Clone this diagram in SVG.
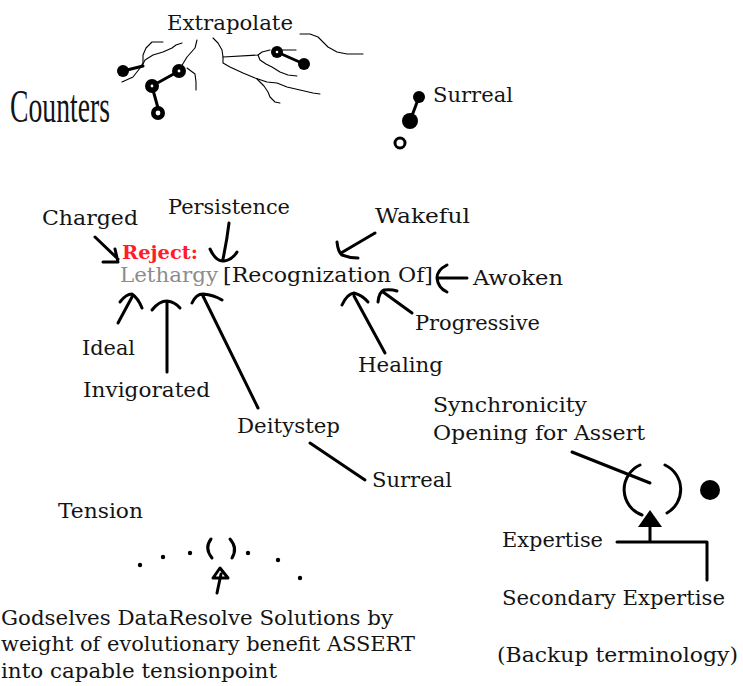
<svg xmlns="http://www.w3.org/2000/svg" width="743" height="686" viewBox="0 0 743 686">
<style>
.t{font-family:"DejaVu Serif","Liberation Serif",serif;font-size:20px;fill:#141414}
.big{font-family:"Liberation Serif",serif;font-size:46px;fill:#141414}
.red{font-family:"DejaVu Serif","Liberation Serif",serif;font-size:19px;font-weight:bold;fill:#ff1d2b}
.gray{font-family:"DejaVu Serif","Liberation Serif",serif;font-size:20px;fill:#8c8c8c}
.ln{fill:none;stroke:#000;stroke-width:3;stroke-linecap:round;stroke-linejoin:round}
.thin{fill:none;stroke:#000;stroke-width:1.1;stroke-linecap:round;stroke-linejoin:round}
.dot{fill:#000}
.hole{fill:#fff}
</style>
<rect width="743" height="686" fill="#fff"/>

<g id="extrapolate">
<text class="t" x="167" y="30" textLength="126" lengthAdjust="spacingAndGlyphs">Extrapolate</text>
</g>
<g id="counters">
<text class="big" x="10" y="122" textLength="100" lengthAdjust="spacingAndGlyphs">Counters</text>
</g>
<g id="counter-shapes">
<path class="thin" d="M163,42 L152,42 L146,48 L143,55 L143,63 L140,68 L133,77 L122,82"/>
<path class="thin" d="M182,43 L176,45 L172,48 L163,52 L153,55 L145,60 L142,66"/>
<path class="thin" d="M197,40 L195,48 L187,57 L181,67"/>
<path class="thin" d="M187,68 L195,74 L196,82 L196,90"/>
<path class="thin" d="M213,38 L218,43 L222,50 L223,57 L223,63 L230,67 L243,73 L255,78 L267,82 L277,83 L287,87 L300,90 L313,93 L320,94"/>
<path class="thin" d="M257,79 L264,86 L268,92 L270,97 L275,102 L280,103"/>
<path class="thin" d="M223,57 L258,55 L262,52 L270,50"/>
<path class="thin" d="M258,55 L260,60 L266,64 L272,67 L280,72 L288,75 L297,76"/>
<path class="thin" d="M282,50 L296,50"/>
<path class="thin" d="M300,34 L310,34 L318,37 L323,42 L328,47 L337,52 L347,54 L363,54"/>
<path class="ln" d="M127,70 L143,66"/>
<path class="ln" d="M179,71 L152,86" stroke-width="3.5"/>
<path class="ln" d="M153,90 L158,108"/>
<path class="ln" d="M277,52 L304,64" stroke-width="3.5"/>
<circle class="dot" cx="123" cy="71" r="6"/>
<circle class="dot" cx="179" cy="71" r="7"/><circle class="hole" cx="179" cy="71" r="1.4"/>
<circle class="dot" cx="152" cy="86" r="7"/><circle class="hole" cx="152" cy="86" r="1.4"/>
<circle class="dot" cx="158" cy="113" r="7"/><circle class="hole" cx="158" cy="113" r="2.4"/>
<circle class="dot" cx="277" cy="52" r="6"/><circle class="hole" cx="277" cy="52" r="1.3"/>
<circle class="dot" cx="304" cy="64" r="6"/>
</g>

<g id="surreal-top">
<text class="t" x="433" y="102" textLength="80" lengthAdjust="spacingAndGlyphs">Surreal</text>
<path class="ln" d="M419,97 L410,121"/>
<circle class="dot" cx="419" cy="97" r="6"/>
<circle class="dot" cx="410" cy="121" r="8"/>
<circle cx="400" cy="143" r="5" fill="#fff" stroke="#000" stroke-width="3"/>
</g>

<g id="charged"><text class="t" x="42" y="225" textLength="96" lengthAdjust="spacingAndGlyphs">Charged</text></g>
<g id="persistence"><text class="t" x="168" y="214" textLength="122" lengthAdjust="spacingAndGlyphs">Persistence</text></g>
<g id="wakeful"><text class="t" x="375" y="223" textLength="95" lengthAdjust="spacingAndGlyphs">Wakeful</text></g>
<g id="reject"><text class="red" x="122" y="259" textLength="76" lengthAdjust="spacingAndGlyphs">Reject:</text></g>
<g id="lethargy"><text class="gray" x="120" y="282" textLength="98" lengthAdjust="spacingAndGlyphs">Lethargy</text></g>
<g id="recognization"><text class="t" x="223" y="282" textLength="210" lengthAdjust="spacingAndGlyphs">[Recognization Of]</text></g>
<g id="awoken"><text class="t" x="473" y="285" textLength="90" lengthAdjust="spacingAndGlyphs">Awoken</text></g>
<g id="progressive"><text class="t" x="415" y="330" textLength="125" lengthAdjust="spacingAndGlyphs">Progressive</text></g>
<g id="ideal"><text class="t" x="82" y="355" textLength="53" lengthAdjust="spacingAndGlyphs">Ideal</text></g>
<g id="healing"><text class="t" x="358" y="372" textLength="85" lengthAdjust="spacingAndGlyphs">Healing</text></g>
<g id="invigorated"><text class="t" x="83" y="397" textLength="127" lengthAdjust="spacingAndGlyphs">Invigorated</text></g>
<g id="synchronicity">
<text class="t" x="433" y="412" textLength="154" lengthAdjust="spacingAndGlyphs">Synchronicity</text>
<text class="t" x="433" y="440" textLength="212" lengthAdjust="spacingAndGlyphs">Opening for Assert</text>
</g>
<g id="deitystep"><text class="t" x="237" y="433" textLength="103" lengthAdjust="spacingAndGlyphs">Deitystep</text></g>
<g id="surreal-mid"><text class="t" x="372" y="487" textLength="80" lengthAdjust="spacingAndGlyphs">Surreal</text></g>
<g id="tension"><text class="t" x="58" y="518" textLength="85" lengthAdjust="spacingAndGlyphs">Tension</text></g>
<g id="tension-point">
<circle class="dot" cx="140" cy="565" r="2.2"/>
<circle class="dot" cx="163" cy="557" r="2.2"/>
<circle class="dot" cx="190" cy="553" r="2.2"/>
<circle class="dot" cx="248" cy="553" r="2.2"/>
<circle class="dot" cx="278" cy="560" r="2.2"/>
<circle class="dot" cx="300" cy="578" r="2.2"/>
<path class="ln" d="M211,539 Q204,548 212,558"/>
<path class="ln" d="M230,539 Q238,548 232,558"/>
</g>
<g id="opening">
<path class="ln" d="M640,465 A27,27 0 0 0 642,515" stroke-width="2.2"/>
<path class="ln" d="M665,465 A27,27 0 0 1 667,513" stroke-width="2.2"/>
<circle class="dot" cx="710" cy="490" r="10"/>
<path d="M650,510 L638,527 L662,527 Z" fill="#000"/>
</g>
<g id="expertise"><text class="t" x="502" y="547" textLength="101" lengthAdjust="spacingAndGlyphs">Expertise</text></g>
<g id="secondary-expertise"><text class="t" x="502" y="605" textLength="223" lengthAdjust="spacingAndGlyphs">Secondary Expertise</text></g>
<g id="backup"><text class="t" x="497" y="662" textLength="241" lengthAdjust="spacingAndGlyphs">(Backup terminology)</text></g>
<g id="godselves">
<text class="t" x="1" y="625" textLength="392" lengthAdjust="spacingAndGlyphs">Godselves DataResolve Solutions by</text>
<text class="t" x="1" y="651" textLength="414" lengthAdjust="spacingAndGlyphs">weight of evolutionary benefit ASSERT</text>
<text class="t" x="1" y="678" textLength="276" lengthAdjust="spacingAndGlyphs">into capable tensionpoint</text>
</g>

<g id="connectors">
<path class="ln" d="M95,237 L118,259 M103,262 L118,262 L115,249"/>
<path class="ln" d="M229,223 Q227,240 223,259 M210,249 Q216,262 224,261 Q232,260 237,252"/>
<path class="ln" d="M375,233 L341,253 M337,242 Q338,252 342,255 Q350,258 358,258"/>
<path class="ln" d="M467,278 L437,278 M447,265 Q437,270 437,278 Q438,288 447,292"/>
<path class="ln" d="M412,313 L383,292 M378,302 Q379,292 384,290 Q391,289 397,291"/>
<path class="ln" d="M385,353 L354,296 M342,305 Q347,294 354,293 Q362,295 368,302"/>
<path class="ln" d="M118,323 L132,297 M120,302 Q126,294 132,294 Q138,298 142,308"/>
<path class="ln" d="M167,372 L167,302 M152,310 Q159,301 167,301 Q175,302 180,308"/>
<path class="ln" d="M258,408 L203,296 M192,303 Q196,294 203,294 Q214,295 222,300"/>
<path class="ln" d="M310,443 L365,480"/>
<path class="ln" d="M572,452 L650,483"/>
<path class="ln" d="M650,527 L650,542 M617,542 L707,542 L707,580"/>
<path class="ln" d="M217,593 L221,574 M213,578 L220,568 L228,578 Z" stroke-width="2.5"/>
</g>
</svg>
